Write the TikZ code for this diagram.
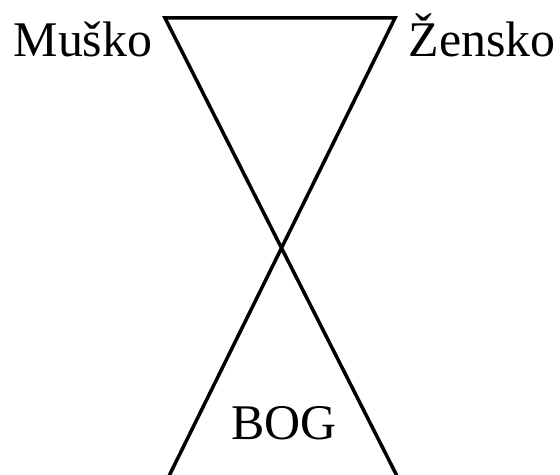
\documentclass[tikz,border=0pt]{standalone}
\usepackage{fontspec}
\setmainfont{Liberation Serif}
\usetikzlibrary{positioning}
\tikzset{rub/.style={line width=2pt,line cap=round,line join=miter},
  lbl/.style={font=\fontsize{28.4pt}{32pt}\selectfont,inner sep=0pt,anchor=base}}

\begin{document}
\begin{tikzpicture}[x=0.02cm,y=-0.02cm]
\useasboundingbox (0,0) rectangle (560,475);
\coordinate (tl) at (165,18);
\coordinate (tr) at (395,18);
\coordinate (bl) at (168,478);
\coordinate (br) at (398,478);
\draw[rub] (br)--(tl)--(tr)--(bl);
\node[lbl] (musko) at (83,57) {Muško};
\node[lbl] (zensko) at (482,57) {Žensko};
\node[lbl] (bog) at (284,439) {BOG};
\end{tikzpicture}
\end{document}
